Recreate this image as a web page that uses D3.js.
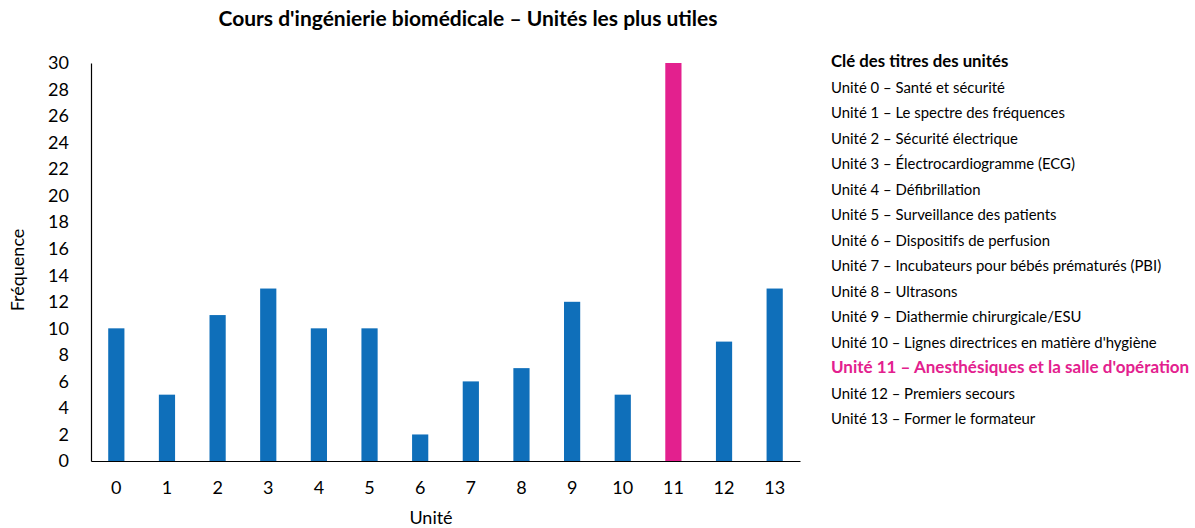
<!DOCTYPE html>
<html><head><meta charset="utf-8">
<script src="https://cdn.jsdelivr.net/npm/d3@7"></script>
<style>
body{margin:0;background:#fff;}
svg{font-family:Lato,"Open Sans",sans-serif;}
</style></head>
<body><svg id="c" width="1195" height="528"></svg>
<script>
const units = [0,1,2,3,4,5,6,7,8,9,10,11,12,13];
const frequencies = [10,5,11,13,10,10,2,6,7,12,5,30,9,13];
const yTicks = [0,2,4,6,8,10,12,14,16,18,20,22,24,26,28,30];
const highlightUnit = 11;
const keyTitle = "Clé des titres des unités";
const keyLabels = [
 "Unité 0 – Santé et sécurité",
 "Unité 1 – Le spectre des fréquences",
 "Unité 2 – Sécurité électrique",
 "Unité 3 – Électrocardiogramme (ECG)",
 "Unité 4 – Défibrillation",
 "Unité 5 – Surveillance des patients",
 "Unité 6 – Dispositifs de perfusion",
 "Unité 7 – Incubateurs pour bébés prématurés (PBI)",
 "Unité 8 – Ultrasons",
 "Unité 9 – Diathermie chirurgicale/ESU",
 "Unité 10 – Lignes directrices en matière d'hygiène",
 "Unité 11 – Anesthésiques et la salle d'opération",
 "Unité 12 – Premiers secours",
 "Unité 13 – Former le formateur"
];
const title = "Cours d'ingénierie biomédicale – Unités les plus utiles";

const blue = "#0F6FBA", pink = "#E3208E";
const svg = d3.select("#c");
const x = d3.scaleBand().domain(units).range([91, 800]).paddingInner(0.68).paddingOuter(0.34);
const y = d3.scaleLinear().domain([0,30]).range([461, 63]);

svg.append("text").attr("x",468).attr("y",26).attr("text-anchor","middle")
  .attr("font-weight","bold").attr("font-size",21).attr("fill","#000").text(title);

svg.selectAll("rect.bar").data(units).join("rect").attr("class","bar")
  .attr("x",d=>x(d)).attr("width",x.bandwidth())
  .attr("y",(d,i)=>y(frequencies[i])).attr("height",(d,i)=>y(0)-y(frequencies[i]))
  .attr("fill",d=>d===highlightUnit?pink:blue);

const ya = svg.append("g").attr("transform","translate(91,0)")
  .call(d3.axisLeft(y).tickValues(yTicks).tickSize(0).tickPadding(22));
ya.select(".domain").attr("stroke","#000").attr("stroke-width",1.2);
ya.selectAll("text").attr("font-size",18).attr("font-family","Lato").attr("fill","#000");

const xa = svg.append("g").attr("transform","translate(0,461)")
  .call(d3.axisBottom(x).tickSize(0).tickPadding(20));
xa.select(".domain").attr("stroke","#000").attr("stroke-width",1.2);
xa.selectAll("text").attr("font-size",18).attr("font-family","Lato").attr("fill","#000");

svg.append("text").attr("x",431).attr("y",524).attr("text-anchor","middle")
  .attr("font-size",18).text("Unité");
svg.append("text").attr("transform","translate(24,270) rotate(-90)").attr("text-anchor","middle")
  .attr("font-size",18).text("Fréquence");

const ky = d3.scalePoint().domain(units).range([93, 424]);
svg.append("text").attr("x",831).attr("y",67).attr("font-weight","bold").attr("font-size",16.8).text(keyTitle);
svg.selectAll("text.key").data(units).join("text").attr("class","key")
  .attr("x",831).attr("y",d=>ky(d))
  .attr("font-size",d=>d===highlightUnit?17:14.9)
  .attr("font-weight",d=>d===highlightUnit?"bold":"normal")
  .attr("fill",d=>d===highlightUnit?pink:"#000")
  .text((d,i)=>keyLabels[i]);
</script></body></html>
